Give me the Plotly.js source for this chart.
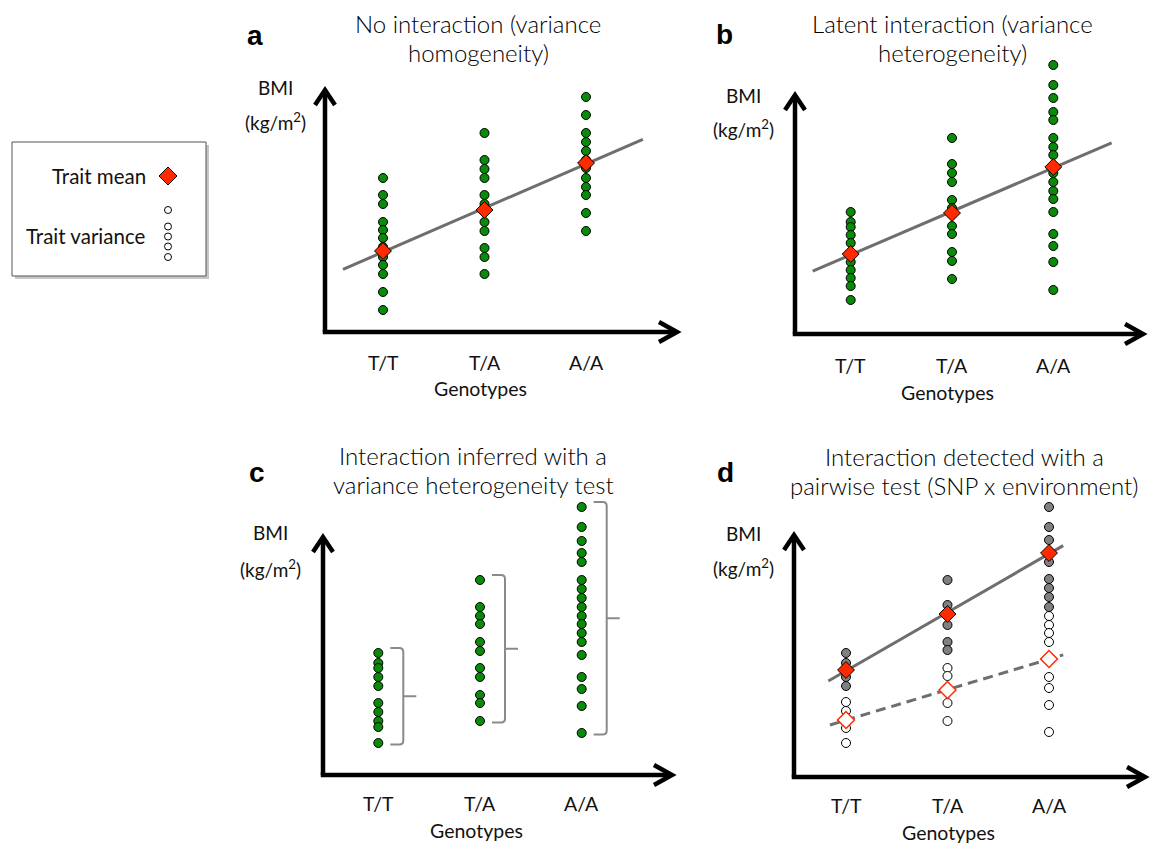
<!DOCTYPE html>
<html>
<head>
<meta charset="utf-8">
<script src="https://cdn.plot.ly/plotly-3.0.1.min.js"></script>
<style>html,body{margin:0;padding:0;background:#fff;}#chart{width:1153px;height:845px;}</style>
</head>
<body>
<div id="chart"></div>
<script>
// ---------- data ----------
const genotypes = ['T/T', 'T/A', 'A/A'];

// panel a: no interaction (variance homogeneity)
const aTT = [30.4, 28.7, 27.8, 26.0, 25.2, 24.4, 23.5, 22.5, 21.7, 20.8, 19.0, 17.2];
const aTA = [34.9, 32.2, 31.3, 30.4, 28.7, 27.8, 26.0, 25.1, 23.4, 22.5, 20.8];
const aAA = [38.5, 36.7, 34.9, 34.0, 33.1, 32.2, 31.4, 30.4, 29.5, 28.7, 26.9, 25.1];
const aMeans = [23.1, 27.2, 31.9];

// panel b: latent interaction (variance heterogeneity)
const bTT = [27.2, 26.2, 25.7, 24.9, 24.1, 23.0, 22.2, 21.4, 20.6, 19.8, 18.4];
const bTA = [34.6, 32.0, 31.1, 30.2, 28.4, 27.6, 25.8, 25.0, 23.2, 22.3, 20.5];
const bAA = [41.9, 39.9, 38.6, 37.2, 36.4, 34.6, 33.7, 32.9, 31.7, 31.1, 30.2, 29.3, 28.5, 27.2, 25.0, 23.8, 22.2, 19.4];
const bMeans = [23.0, 27.1, 31.7];

// panel c: variance heterogeneity test
const cTT = [27.2, 26.2, 25.7, 24.8, 23.9, 22.2, 21.3, 20.4, 19.8, 18.2];
const cTA = [34.5, 31.8, 30.9, 30.1, 28.3, 27.4, 25.7, 24.8, 23.0, 22.2, 20.4];
const cAA = [41.8, 39.8, 38.4, 37.2, 36.3, 34.5, 33.6, 32.7, 31.8, 30.9, 30.1, 29.2, 28.3, 27.0, 24.8, 23.6, 21.9, 19.2];

// panel d: pairwise test (SNP x environment)
const dGrayTT = [27.4, 26.4, 25.7, 25.0, 24.1];
const dGrayTA = [34.7, 32.2, 31.3, 30.2, 28.5, 27.7];
const dGrayAA = [42.0, 40.0, 38.7, 37.4, 36.5, 34.8, 33.9, 33.0, 32.0];
const dWhiteTT = [22.5, 21.6, 20.8, 19.9, 18.4];
const dWhiteTA = [25.9, 25.1, 23.7, 22.4, 20.6];
const dWhiteAA = [31.1, 30.2, 29.4, 28.5, 26.8, 25.0, 23.9, 22.2, 19.5];
const dMeansGray = [25.7, 31.3, 37.4];
const dMeansWhite = [20.7, 23.7, 26.8];

// text
const panelLetters = ['a', 'b', 'c', 'd'];
const panelTitles = [
  ['No interaction (variance', 'homogeneity)'],
  ['Latent interaction (variance', 'heterogeneity)'],
  ['Interaction inferred with a', 'variance heterogeneity test'],
  ['Interaction detected with a', 'pairwise test (SNP x environment)']
];
const yLabel = ['BMI', '(kg/m<sup>2</sup>)'];
const xLabel = 'Genotypes';
const legendLabels = ['Trait mean', 'Trait variance'];

// ---------- styling / layout helpers ----------
const W = 1153, H = 845;
const fx = px => px / W;
const fy = py => 1 - py / H;
const GREEN = '#0a8a0a', RED = '#ff2a00', GRAY = '#808080', LINEGRAY = '#6e6e6e';
const FONT = 'Lato, "Open Sans", "Noto Sans", sans-serif';
const TXT = '#111';

// panel frames in pixels: left axis x, right arrow tip, x-axis y, top arrow tip, px per genotype step, first genotype px
const frames = [
  {L: 325, R: 677, B: 332, T: 90, step: 101.5, first: 383, titleX: 478, titleY: [24, 53], letter: [255, 36], bmi: [275, 88, 122], tickY: 362, genoX: 480, genoY: 388},
  {L: 795, R: 1143, B: 334, T: 95, step: 101.3, first: 850.7, titleX: 953, titleY: [24, 53], letter: [724, 35], bmi: [743, 95, 129], tickY: 366, genoX: 947, genoY: 392},
  {L: 323, R: 672, B: 775, T: 537, step: 101.7, first: 378.3, titleX: 473, titleY: [455, 484], letter: [257, 472], bmi: [270, 532, 568], tickY: 803, genoX: 476, genoY: 830},
  {L: 794, R: 1145, B: 777, T: 535, step: 101.5, first: 846, titleX: 964, titleY: [456, 485], letter: [725, 472], bmi: [743, 533, 567], tickY: 805, genoX: 948, genoY: 832}
];
const Y0 = 15, PXPERUNIT = 10, HEADROOM = 45;

const layout = {
  width: W, height: H, margin: {l: 0, r: 0, t: 0, b: 0},
  paper_bgcolor: '#fff', plot_bgcolor: 'rgba(0,0,0,0)', showlegend: false,
  font: {family: FONT, color: TXT},
  shapes: [], annotations: []
};

frames.forEach((f, i) => {
  const n = i === 0 ? '' : String(i + 1);
  const left = -(f.first - f.L) / f.step;
  const right = left + (f.R - f.L) / f.step;
  const top = f.T - HEADROOM;               // plot area extends above the arrow tip so tall columns are not cut
  const hPx = f.B - top;
  const tipFrac = (f.B - f.T) / hPx;
  const axBase = {showgrid: false, zeroline: false, showline: false, showticklabels: false, ticks: '', fixedrange: true};
  layout['xaxis' + n] = Object.assign({}, axBase, {domain: [fx(f.L), fx(f.R)], range: [left, right], anchor: 'y' + n});
  layout['yaxis' + n] = Object.assign({}, axBase, {domain: [fy(f.B), fy(top)], range: [Y0, Y0 + hPx / PXPERUNIT], anchor: 'x' + n});
  const xd = 'x' + n + ' domain', yd = 'y' + n + ' domain';
  const lw = 4.5;
  // axes (thick arrows)
  layout.shapes.push({type: 'line', xref: xd, yref: yd, x0: 0, x1: 0, y0: 0, y1: tipFrac - 1.5 / hPx, line: {color: '#000', width: lw}});
  layout.shapes.push({type: 'line', xref: xd, yref: yd, x0: -lw / 2 / (f.R - f.L), x1: 1 - 1.5 / (f.R - f.L), y0: 0, y1: 0, line: {color: '#000', width: lw}});
  layout.shapes.push({type: 'path', xref: xd, yref: yd, xsizemode: 'pixel', ysizemode: 'pixel', xanchor: 0, yanchor: tipFrac,
    path: 'M -10,-15 L 0,0 L 10,-15', line: {color: '#000', width: lw}});
  layout.shapes.push({type: 'path', xref: xd, yref: yd, xsizemode: 'pixel', ysizemode: 'pixel', xanchor: 1, yanchor: 0,
    path: 'M -18,10 L 0,0 L -18,-10', line: {color: '#000', width: lw}});
  // texts
  layout.annotations.push({xref: 'paper', yref: 'paper', x: fx(f.letter[0]), y: fy(f.letter[1]), text: panelLetters[i], showarrow: false,
    xanchor: 'center', yanchor: 'middle', font: {family: '"Liberation Sans", Arial, sans-serif', size: 28, weight: 'bold', color: '#000'}});
  panelTitles[i].forEach((t, k) => layout.annotations.push({xref: 'paper', yref: 'paper', x: fx(f.titleX), y: fy(f.titleY[k]), text: t,
    showarrow: false, xanchor: 'center', yanchor: 'middle', font: {size: 24, weight: 300, color: '#000'}}));
  yLabel.forEach((t, k) => layout.annotations.push({xref: 'paper', yref: 'paper', x: fx(f.bmi[0]), y: fy(f.bmi[k + 1]), text: t,
    showarrow: false, xanchor: 'center', yanchor: 'middle', font: {size: 19, color: TXT}}));
  genotypes.forEach((g, k) => layout.annotations.push({xref: 'x' + n, yref: 'paper', x: k, y: fy(f.tickY), text: g,
    showarrow: false, xanchor: 'center', yanchor: 'middle', font: {size: 19.5, color: TXT}}));
  layout.annotations.push({xref: 'paper', yref: 'paper', x: fx(f.genoX), y: fy(f.genoY), text: xLabel,
    showarrow: false, xanchor: 'center', yanchor: 'middle', font: {size: 19.5, color: TXT}});
});

// ---------- traces ----------
const traces = [];
function dots(groups, n, fill, size) {
  const x = [], y = [];
  groups.forEach((arr, g) => arr.forEach(v => { x.push(g); y.push(v); }));
  traces.push({type: 'scatter', mode: 'markers', x: x, y: y, xaxis: 'x' + n, yaxis: 'y' + n, cliponaxis: false, hoverinfo: 'skip',
    marker: {symbol: 'circle', size: size || 9, color: fill, line: {color: '#000', width: 1}}});
}
function meanLine(means, n, ext, dash) {
  const slope = (means[2] - means[0]) / 2;
  const mean = (means[0] + means[1] + means[2]) / 3;
  const icpt = mean - slope;
  traces.push({type: 'scatter', mode: 'lines', x: ext, y: ext.map(v => icpt + slope * v), xaxis: 'x' + n, yaxis: 'y' + n,
    cliponaxis: false, hoverinfo: 'skip', line: {color: LINEGRAY, width: 3, dash: dash || 'solid'}});
}
function diamonds(means, n, fill, edge, w) {
  traces.push({type: 'scatter', mode: 'markers', x: [0, 1, 2], y: means, xaxis: 'x' + n, yaxis: 'y' + n, cliponaxis: false, hoverinfo: 'skip',
    marker: {symbol: 'diamond', size: 13, color: fill, line: {color: edge, width: w}}});
}

// a
meanLine(aMeans, '', [-0.394, 2.56]);
dots([aTT, aTA, aAA], '', GREEN);
diamonds(aMeans, '', RED, '#000', 1);
// b
meanLine(bMeans, '2', [-0.375, 2.576]);
dots([bTT, bTA, bAA], '2', GREEN);
diamonds(bMeans, '2', RED, '#000', 1);
// c
dots([cTT, cTA, cAA], '3', GREEN);
[cTT, cTA, cAA].forEach((arr, g) => {
  const top = Math.max(...arr) + 0.5, bot = Math.min(...arr) - 0.15, mid = (top + bot) / 2, r = 0.4;
  layout.shapes.push({type: 'path', xref: 'x3', yref: 'y3', xsizemode: 'pixel', xanchor: g,
    path: `M 12,${top} L 21,${top} Q 25,${top} 25,${top - r} L 25,${bot + r} Q 25,${bot} 21,${bot} L 12,${bot} M 25,${mid} L 38,${mid}`,
    line: {color: '#8a8a8a', width: 2}});
});
// d
meanLine(dMeansGray, '4', [-0.174, 2.14]);
meanLine(dMeansWhite, '4', [-0.158, 2.14], '10px,6px');
dots([dGrayTT, dGrayTA, dGrayAA], '4', GRAY);
dots([dWhiteTT, dWhiteTA, dWhiteAA], '4', '#fff');
diamonds(dMeansGray, '4', RED, '#000', 1);
diamonds(dMeansWhite, '4', '#fff', RED, 1.5);

// ---------- legend box ----------
layout.shapes.unshift(
  {type: 'rect', xref: 'paper', yref: 'paper', x0: fx(15), x1: fx(209), y0: fy(279), y1: fy(145), line: {width: 0}, fillcolor: 'rgba(0,0,0,0.22)', layer: 'below'},
  {type: 'rect', xref: 'paper', yref: 'paper', x0: fx(12), x1: fx(206), y0: fy(276), y1: fy(142), line: {color: '#555', width: 1}, fillcolor: '#fff', layer: 'below'}
);
layout.shapes.push({type: 'path', xref: 'paper', yref: 'paper', xsizemode: 'pixel', ysizemode: 'pixel', xanchor: fx(168), yanchor: fy(176),
  path: 'M -9,0 L 0,9 L 9,0 L 0,-9 Z', fillcolor: RED, line: {color: '#000', width: 1}});
[210, 226.5, 236.5, 246.5, 257].forEach(py => layout.shapes.push({type: 'circle', xref: 'paper', yref: 'paper', xsizemode: 'pixel', ysizemode: 'pixel',
  xanchor: fx(168), yanchor: fy(py), x0: -3.5, x1: 3.5, y0: -3.5, y1: 3.5, fillcolor: '#fff', line: {color: '#000', width: 1}}));
legendLabels.forEach((t, k) => layout.annotations.push({xref: 'paper', yref: 'paper', x: fx(148), y: fy(k === 0 ? 176 : 236), text: t,
  showarrow: false, xanchor: 'right', yanchor: 'middle', font: {size: 20.5, color: TXT}}));

Plotly.newPlot('chart', traces, layout, {staticPlot: true, displayModeBar: false});
</script>
</body>
</html>
